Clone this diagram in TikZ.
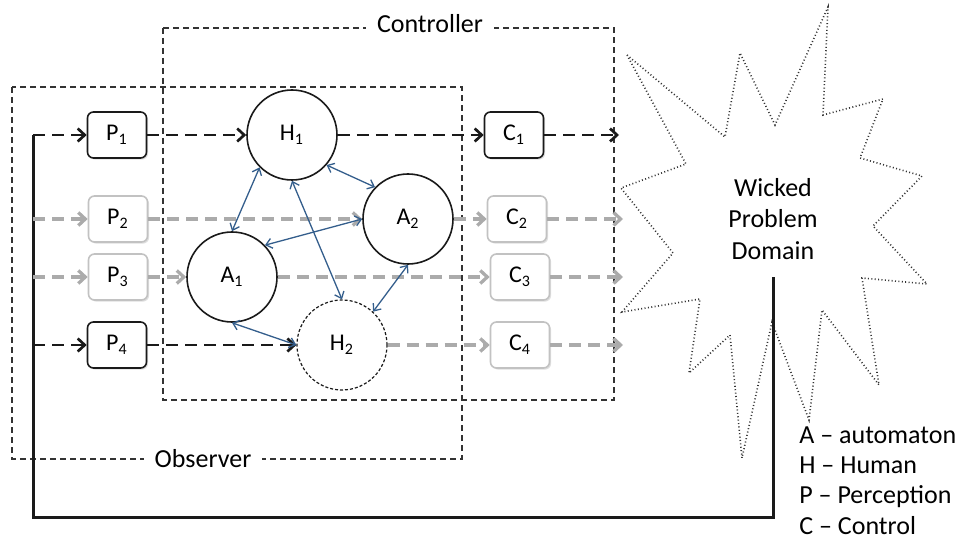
\documentclass[tikz,border=0pt]{standalone}
\usepackage{fontspec}
\setmainfont{Carlito}
\usetikzlibrary{arrows.meta,shadows}
\definecolor{Ink}{HTML}{1A1A1A}
\definecolor{Frame}{HTML}{333333}
\definecolor{Faded}{HTML}{ABABAB}
\definecolor{FadedEdge}{HTML}{C2C2C2}
\definecolor{Link}{HTML}{345E8C}

\begin{document}
\begin{tikzpicture}[x=0.5pt,y=-0.5pt,font=\fontsize{13}{15.5}\selectfont,
 box/.style={draw=Ink,line width=0.8pt,fill=white,rounded corners=3pt,minimum width=29.5pt,minimum height=23pt,inner sep=0pt,font=\fontsize{12}{14}\selectfont,drop shadow={shadow xshift=0.8pt,shadow yshift=-0.8pt,opacity=0.25}},
 fadedbox/.style={box,draw=FadedEdge},
 agent/.style={circle,draw=Ink,line width=0.8pt,fill=white,minimum size=45pt,inner sep=0pt,font=\fontsize{12}{14}\selectfont},
 frame/.style={draw=Frame,line width=0.7pt,dash pattern=on 3pt off 2pt},
 flow/.style={-{Straight Barb[length=3.5pt,width=6.5pt]},line width=1.35pt,draw=Ink,dash pattern=on 6pt off 3.5pt},
 fadedflow/.style={flow,draw=Faded,line width=1.65pt},
 link/.style={{Straight Barb[length=3pt,width=5pt]}-{Straight Barb[length=3pt,width=5pt]},line width=0.65pt,draw=Link},
 feedback/.style={line width=1.5pt,draw=Ink},
 label/.style={fill=white,inner xsep=5.5pt,inner ysep=2pt,anchor=base}]
 \useasboundingbox (0,0) rectangle (960,540);
 % the two frames
 \draw[frame] (163,28) rectangle (614,400);
 \draw[frame] (12,87) rectangle (462,459);
 \node[label] (ctrl) at (430,32.5) {Controller};
 \node[label] (obs) at (203,467) {Observer};
 % problem domain
 \draw[draw=Frame,line width=0.8pt,dash pattern=on 0.5pt off 1.2pt] (627,55) -- (725,137) -- (740,53) -- (775,125) -- (828,7) -- (823,115) -- (883,99) -- (860,158) -- (922,176) -- (873,226) -- (927,284) -- (862,278) -- (879,385) -- (822,310) -- (809,420) -- (772,322) -- (742,458) -- (730,335) -- (689,373) -- (700,299) -- (622,312) -- (673,253) -- (621,188) -- (686,164) -- cycle;
 \node[align=center,inner xsep=0pt,inner ysep=8.5pt,anchor=north,font=\fontsize{13}{15.75}\selectfont] (wpd) at (773,161) {Wicked\\Problem\\Domain};
 \node[align=left,inner sep=0pt,anchor=north west,font=\fontsize{13}{15.2}\selectfont] (key) at (799,426) {A -- automaton\\H -- Human\\P -- Perception\\C -- Control};
 % perception, agents, control
 \node[box] (P1) at (117,135) {P\textsubscript{1}};
 \node[fadedbox] (P2) at (118,219) {P\textsubscript{2}};
 \node[fadedbox] (P3) at (118,277) {P\textsubscript{3}};
 \node[box] (P4) at (117,345) {P\textsubscript{4}};
 \node[agent] (H1) at (292,135) {H\textsubscript{1}};
 \node[agent] (A2) at (408,219) {A\textsubscript{2}};
 \node[agent] (A1) at (232,277) {A\textsubscript{1}};
 \node[agent,line width=0.6pt,dash pattern=on 1.5pt off 1pt] (H2) at (342,345) {H\textsubscript{2}};
 \node[box] (C1) at (514,135) {C\textsubscript{1}};
 \node[fadedbox] (C2) at (517,219) {C\textsubscript{2}};
 \node[fadedbox] (C3) at (520,277) {C\textsubscript{3}};
 \node[fadedbox] (C4) at (520,345) {C\textsubscript{4}};
 \coordinate (fb) at (33,517);
 \coordinate (out1) at (619,135); \coordinate (out2) at (623,219);
 \coordinate (out3) at (623,277); \coordinate (out4) at (623,345);
 % feedback loop
 \draw[feedback] (wpd.south) |- (fb) -- (fb |- P1.west);
 \draw[fadedflow] (fb |- P2.west) -- (P2); \draw[fadedflow] (P2) -- (A2);
 \draw[fadedflow] (A2) -- (C2); \draw[fadedflow] (C2) -- (out2);
 \draw[fadedflow] (fb |- P3.west) -- (P3); \draw[fadedflow] (P3) -- (A1);
 \draw[fadedflow] (A1) -- (C3); \draw[fadedflow] (C3) -- (out3);
 \draw[fadedflow] (H2) -- (C4); \draw[fadedflow] (C4) -- (out4);
 \draw[flow] (fb |- P1.west) -- (P1); \draw[flow] (P1) -- (H1);
 \draw[flow] (H1) -- (C1); \draw[flow] (C1) -- (out1);
 \draw[flow] (fb |- P4.west) -- (P4); \draw[flow] (P4) -- (H2);
 % agent interplay
 \draw[link] (H1.225) -- (A1.90); \draw[link] (H1.319) -- (A2.136);
 \draw[link] (A2.180) -- (A1.44); \draw[link] (H1.270) -- (H2.90);
 \draw[link] (A2.270) -- (H2.47); \draw[link] (A1.270) -- (H2.180);
\end{tikzpicture}
\end{document}
